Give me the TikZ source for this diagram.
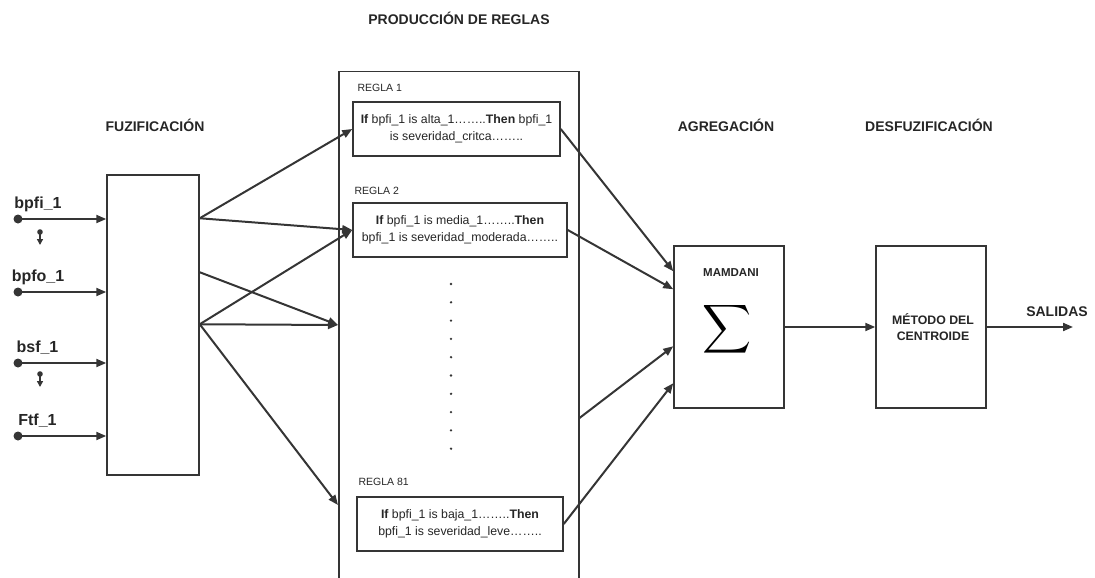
\documentclass[tikz,border=0pt]{standalone}
\usepackage{fontspec}
\setmainfont{Liberation Sans}
\usetikzlibrary{arrows.meta,calc}
\definecolor{ink}{HTML}{262626}
\definecolor{wire}{HTML}{353535}
\begin{document}
\begin{tikzpicture}[x=1pt,y=-1pt,
  every node/.style={text=ink},
  block/.style={draw=wire,line width=1.5pt,fill=white,rectangle,inner sep=0pt},
  rulebox/.style={block,minimum height=54pt,align=center,font=\fontsize{12.3}{16.5}\selectfont},
  title/.style={font=\fontsize{14}{16}\selectfont\bfseries},
  inlabel/.style={font=\fontsize{16}{18}\selectfont\bfseries},
  rulelabel/.style={font=\fontsize{10.5}{12}\selectfont,anchor=west},
  conn/.style={draw=wire,line width=2pt,-{Triangle[length=10pt,width=8pt]}},
  dotmark/.style={fill=wire,circle,inner sep=0pt,minimum size=9pt}]
\useasboundingbox (0,0) rectangle (1095,578);

% section titles
\node[title] (tprod) at (459,18) {PRODUCCIÓN DE REGLAS};
\node[title] (tfuz) at (155,125) {FUZIFICACIÓN};
\node[title] (tagr) at (726,125) {AGREGACIÓN};
\node[title] (tdes) at (929,125) {DESFUZIFICACIÓN};

% main blocks
\node[block,minimum width=92pt,minimum height=300pt] (fuz) at (153,325) {};
\node[block,minimum width=240pt,minimum height=560pt,anchor=north west] (rules) at (338,71) {};
\node[block,minimum width=110pt,minimum height=162pt] (mam) at (729,327) {};
\node[block,minimum width=110pt,minimum height=162pt] (cent) at (931,327) {};

% rule boxes
\node[rulelabel] (r1l) at (354,88) {REGLA 1};
\node[rulebox,minimum width=207pt] (r1) at (456.5,129)
  {\textbf{If} bpfi\_1 is alta\_1……..\textbf{Then} bpfi\_1\\is severidad\_critca……..};
\node[rulelabel] (r2l) at (351,191) {REGLA 2};
\node[rulebox,minimum width=214pt] (r2) at (460,230)
  {\textbf{If} bpfi\_1 is media\_1……..\textbf{Then}\\bpfi\_1 is severidad\_moderada……..};
\node[rulelabel] (r3l) at (355,482) {REGLA 81};
\node[rulebox,minimum width=206pt] (r3) at (460,524)
  {\textbf{If} bpfi\_1 is baja\_1……..\textbf{Then}\\bpfi\_1 is severidad\_leve……..};

% vertical ellipsis between the rules
\foreach \k in {0,...,9}
  \fill[wire] (451,{284+18.3*\k}) circle (1.3);

% aggregation and defuzzification contents
\node[font=\fontsize{11.5}{13}\selectfont\bfseries] (mamt) at (731,273) {MAMDANI};
\node[scale=3.4,text=black,inner sep=0pt] (sig) at (727,337.5) {\smash{$\displaystyle\sum$}};
\node[font=\fontsize{12.3}{16}\selectfont\bfseries,align=center] (centt) at (933,327)
  {MÉTODO DEL\\CENTROIDE};

% inputs
\foreach \nm/\txt/\yy/\lx in {a/bpfi\_1/219/38, b/bpfo\_1/292/38, c/bsf\_1/363/37.5, d/Ftf\_1/436/37.5}{
  \node[dotmark] (in\nm) at (18,\yy) {};
  \node[inlabel] (lab\nm) at (\lx,\yy-15) {\txt};
  \coordinate (fin\nm) at (fuz.west |- in\nm);
  \draw[conn] (in\nm.center) -- (fin\nm);
}

% small up/down marks between input pairs
\foreach \nm/\yy in {m1/232, m2/374}{
  \coordinate (\nm) at (40,\yy);
  \fill[wire] (\nm) circle (2.8);
  \draw[draw=wire,line width=1.6pt,-{Triangle[length=6pt,width=6pt]}] (\nm) -- ++(0,13);
}

% fuzzification outputs
\coordinate (f1) at ($(fuz.north east)+(0,44)$);
\coordinate (f2) at ($(fuz.north east)+(0,98)$);
\coordinate (f3) at ($(fuz.north east)+(0,150)$);
\coordinate (p1) at ($(rules.north west)+(0,254)$);
\coordinate (p2) at ($(rules.north west)+(0,434)$);
\draw[conn] (f1) -- (r1.west);
\draw[conn] (f1) -- (r2.west);
\draw[conn] (f2) -- (p1);
\draw[conn] (f3) -- (r2.west);
\draw[conn] (f3) -- (p1);
\draw[conn] (f3) -- (p2);

% rules into aggregation
\coordinate (q1) at ($(rules.north east)+(0,347)$);
\draw[conn] (r1.east) -- ($(mam.north west)+(0,26)$);
\draw[conn] (r2.east) -- ($(mam.north west)+(0,44)$);
\draw[conn] (q1) -- ($(mam.north west)+(0,101)$);
\draw[conn] (r3.east) -- ($(mam.north west)+(0,138)$);

% aggregation to defuzzification to output
\draw[conn] (mam.east) -- (cent.west);
\coordinate (out) at (1073,327);
\draw[conn] (cent.east) -- (out);
\node[title] (sal) at (1057,312) {SALIDAS};
\end{tikzpicture}
\end{document}
